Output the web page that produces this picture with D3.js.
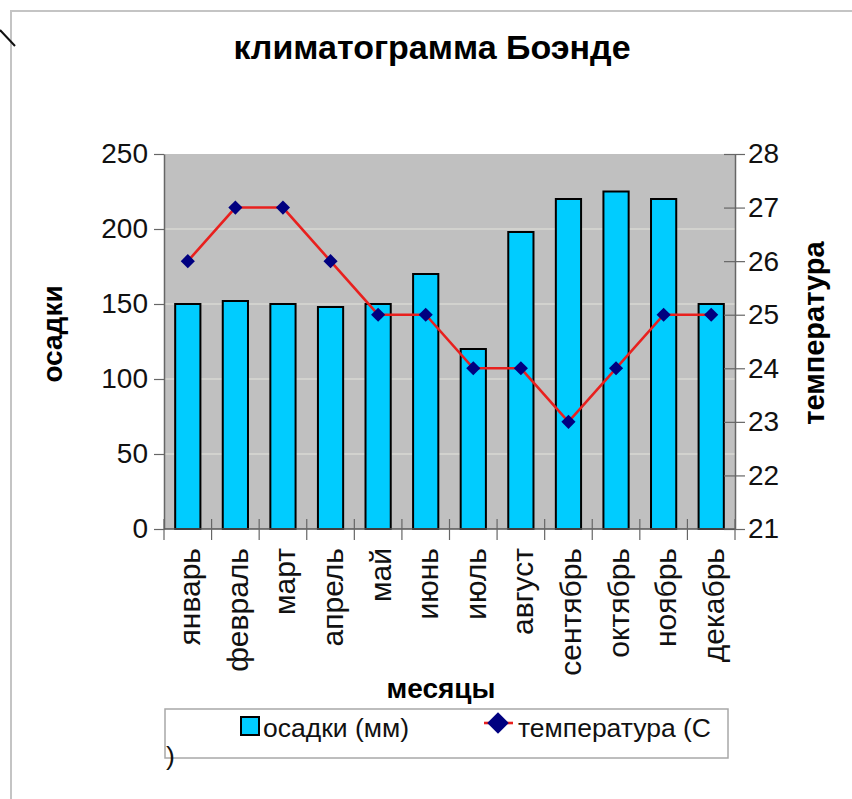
<!DOCTYPE html>
<html>
<head>
<meta charset="utf-8">
<script src="https://cdn.jsdelivr.net/npm/d3@7/dist/d3.min.js"></script>
<style>
  body { margin: 0; background: #fff; }
  svg { display: block; font-family: "Liberation Sans", Arial, sans-serif; }
</style>
</head>
<body>
<svg width="852" height="799"></svg>
<script>
// data
const months = ["январь", "февраль", "март", "апрель", "май", "июнь",
  "июль", "август", "сентябрь", "октябрь", "ноябрь", "декабрь"];
const rain = [150, 152, 150, 148, 150, 170, 120, 198, 220, 225, 220, 150];
const temp = [26, 27, 27, 26, 25, 25, 24, 24, 23, 24, 25, 25];
const rainTicks = [0, 50, 100, 150, 200, 250];
const tempTicks = [21, 22, 23, 24, 25, 26, 27, 28];

const svg = d3.select("svg");
const pL = 164, pR = 735, pT = 154, pB = 529;

// outer frame + stray stroke in the corner
svg.append("path").attr("d", "M11,799V11H852").attr("fill", "none")
  .attr("stroke", "#c4c4c4").attr("stroke-width", 2);
svg.append("line").attr("x1", 0).attr("y1", 30).attr("x2", 15).attr("y2", 46)
  .attr("stroke", "#111").attr("stroke-width", 2);

const x = d3.scaleBand().domain(months).range([pL, pR])
  .paddingInner(0.47).paddingOuter(0.235);
const yL = d3.scaleLinear().domain([0, 250]).range([pB, pT]);
const yR = d3.scaleLinear().domain([21, 28]).range([pB, pT]);

// plot area
svg.append("rect").attr("x", pL).attr("y", pT)
  .attr("width", pR - pL).attr("height", pB - pT)
  .attr("fill", "#c0c0c0");

svg.append("g").selectAll("line").data(rainTicks.slice(1, -1)).join("line")
  .attr("x1", pL).attr("x2", pR)
  .attr("y1", d => yL(d)).attr("y2", d => yL(d))
  .attr("stroke", "#e4e4dc").attr("stroke-width", 1);

// bars
svg.append("g").selectAll("rect").data(rain).join("rect")
  .attr("x", (d, i) => x(months[i]))
  .attr("y", d => yL(d))
  .attr("width", x.bandwidth())
  .attr("height", d => yL(0) - yL(d))
  .attr("fill", "#00ccff")
  .attr("stroke", "#000").attr("stroke-width", 2);

// axes
const gL = svg.append("g").attr("transform", `translate(${pL},0)`)
  .call(d3.axisLeft(yL).tickValues(rainTicks).tickSizeInner(10).tickSizeOuter(0).tickPadding(6));
const gR = svg.append("g").attr("transform", `translate(${pR},0)`)
  .call(d3.axisRight(yR).tickValues(tempTicks).tickFormat(d3.format("d"))
    .tickSizeInner(10).tickSizeOuter(0).tickPadding(3));
gR.selectAll(".tick line").attr("x1", -11);
[gL, gR].forEach(g => {
  g.select(".domain").attr("stroke", "#666").attr("stroke-width", 1.5);
  g.selectAll(".tick line").attr("stroke", "#666").attr("stroke-width", 1.2);
  g.selectAll(".tick text").attr("font-size", 28).attr("fill", "#111")
    .attr("font-family", "Liberation Sans, Arial, sans-serif");
});

// category axis: ticks at band boundaries
const step = x.step();
svg.append("line").attr("x1", pL).attr("x2", pR).attr("y1", pB).attr("y2", pB)
  .attr("stroke", "#555").attr("stroke-width", 1.5);
svg.append("g").selectAll("line").data(d3.range(months.length + 1)).join("line")
  .attr("x1", i => pL + i * step).attr("x2", i => pL + i * step)
  .attr("y1", pB - 10).attr("y2", pB + 11)
  .attr("stroke", "#666").attr("stroke-width", 1.2);
svg.append("g").selectAll("text").data(months).join("text")
  .attr("transform", d => `translate(${x(d) + x.bandwidth() / 2 + 2},548) rotate(-90)`)
  .attr("text-anchor", "end").attr("dy", "0.35em")
  .attr("font-size", 30).attr("fill", "#111").text(d => d);

// temperature line
const line = d3.line().x((d, i) => x(months[i]) + x.bandwidth() / 2).y(d => yR(d));
svg.append("path").datum(temp).attr("d", line)
  .attr("fill", "none").attr("stroke", "#e8201e").attr("stroke-width", 2.6);
const diamond = d3.symbol(d3.symbolSquare, 100);
svg.append("g").selectAll("path").data(temp).join("path")
  .attr("transform", (d, i) => `translate(${x(months[i]) + x.bandwidth() / 2},${yR(d)}) rotate(45)`)
  .attr("d", diamond).attr("fill", "#000080");

// titles
svg.append("text").attr("x", 432).attr("y", 59).attr("text-anchor", "middle")
  .attr("font-size", 34).attr("font-weight", "bold").text("климатограмма Боэнде");
svg.append("text").attr("transform", "translate(62,334) rotate(-90)")
  .attr("text-anchor", "middle").attr("font-size", 28).attr("font-weight", "bold").text("осадки");
svg.append("text").attr("transform", "translate(824,333) rotate(-90)")
  .attr("text-anchor", "middle").attr("font-size", 29).attr("font-weight", "bold").text("температура");
svg.append("text").attr("x", 441).attr("y", 698).attr("text-anchor", "middle")
  .attr("font-size", 28).attr("font-weight", "bold").text("месяцы");

// legend
const lg = svg.append("g");
lg.append("rect").attr("x", 165).attr("y", 709).attr("width", 563).attr("height", 49)
  .attr("fill", "#fff").attr("stroke", "#a8a8a8").attr("stroke-width", 1.5);
lg.append("rect").attr("x", 241).attr("y", 717).attr("width", 18).attr("height", 18)
  .attr("fill", "#00ccff").attr("stroke", "#000").attr("stroke-width", 2);
lg.append("text").attr("x", 263).attr("y", 737).attr("font-size", 26.5).attr("fill", "#111")
  .text("осадки (мм)");
lg.append("line").attr("x1", 484).attr("x2", 513).attr("y1", 723).attr("y2", 723)
  .attr("stroke", "#e8201e").attr("stroke-width", 2.6);
lg.append("path").attr("transform", "translate(498,723) rotate(45)")
  .attr("d", d3.symbol(d3.symbolSquare, 230)).attr("fill", "#000080");
lg.append("text").attr("x", 518).attr("y", 737).attr("font-size", 26.5).attr("fill", "#111")
  .text("температура (С");
lg.append("text").attr("x", 166).attr("y", 765).attr("font-size", 26.5).attr("fill", "#111")
  .text(")");
</script>
</body>
</html>
